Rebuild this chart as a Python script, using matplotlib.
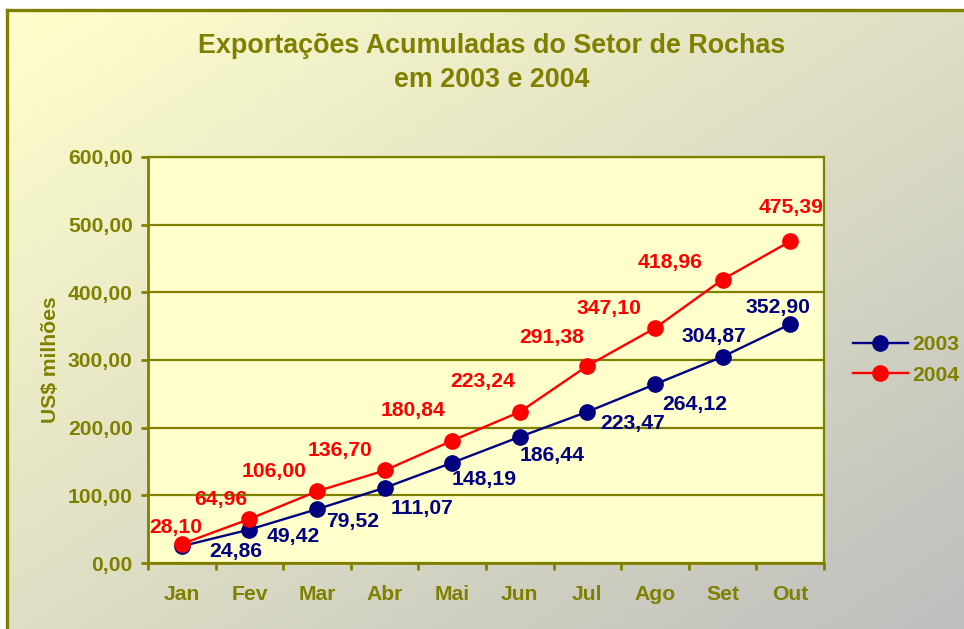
import numpy as np
import matplotlib
matplotlib.use("Agg")
import matplotlib.pyplot as plt
from matplotlib.colors import LinearSegmentedColormap

plt.rcParams['font.family'] = ['Liberation Sans', 'DejaVu Sans']
plt.rcParams['font.weight'] = 'bold'

meses = ['Jan', 'Fev', 'Mar', 'Abr', 'Mai', 'Jun', 'Jul', 'Ago', 'Set', 'Out']
v2003 = [24.86, 49.42, 79.52, 111.07, 148.19, 186.44, 223.47, 264.12, 304.87, 352.90]
v2004 = [28.10, 64.96, 106.00, 136.70, 180.84, 223.24, 291.38, 347.10, 418.96, 475.39]

# deslocamento dos rotulos (pixels)
off2003 = [(54, -5), (44, -7), (36, -12), (37, -21), (32, -17), (32, -19),
           (45, -12), (40, -20), (-9, 20), (-12, 17)]
off2004 = [(-6, 16), (-29, 20), (-43, 20), (-45, 20), (-39, 30), (-37, 30),
           (-36, 28), (-46, 20), (-53, 17), (1, 34)]

oliva = '#808000'
azul = '#000080'
verm = '#FF0000'
fs = 15.2

W, H = 964, 629
fig = plt.figure(figsize=(W / 100, H / 100), dpi=100)
fig.patch.set_facecolor('white')

# fundo em degrade
bg = fig.add_axes([7 / W, 0, 1 - 7 / W, 1 - 10 / H], zorder=-5)
gx, gy = np.meshgrid(np.linspace(0, 1, 300), np.linspace(0, 1, 200))
grad = (gx + gy) / 2
cmap = LinearSegmentedColormap.from_list('g', ['#FFFFCC', '#BEBEBE'])
bg.imshow(grad, cmap=cmap, aspect='auto', extent=[0, 1, 0, 1], origin='upper')
bg.plot([0, 0], [0, 1], color=oliva, lw=2.4, transform=bg.transAxes, clip_on=False)
bg.plot([0, 1], [1, 1], color=oliva, lw=2.4, transform=bg.transAxes, clip_on=False)
bg.set_xlim(0, 1)
bg.set_ylim(0, 1)
bg.axis('off')

ax = fig.add_axes([148 / W, 1 - 563 / H, (824 - 148) / W, (563 - 157) / H])
ax.set_facecolor('#FFFFCC')

x = np.arange(len(meses))
ax.plot(x, v2003, color=azul, lw=1.7, marker='o', ms=11, label='2003', zorder=3)
ax.plot(x, v2004, color=verm, lw=1.7, marker='o', ms=11, label='2004', zorder=4)

for i in range(len(meses)):
    ax.annotate(f"{v2003[i]:.2f}".replace('.', ','), (x[i], v2003[i]), xytext=off2003[i],
                textcoords='offset pixels', ha='center', va='center', color=azul,
                fontsize=fs, fontweight='bold', zorder=5)
    ax.annotate(f"{v2004[i]:.2f}".replace('.', ','), (x[i], v2004[i]), xytext=off2004[i],
                textcoords='offset pixels', ha='center', va='center', color=verm,
                fontsize=fs, fontweight='bold', zorder=5)

ax.set_xlim(-0.5, len(meses) - 0.5)
ax.set_ylim(0, 600)
ax.set_yticks(np.arange(0, 601, 100))
ax.set_yticklabels([f"{t:.2f}".replace('.', ',') for t in np.arange(0, 601, 100)])
ax.set_xticks(x)
ax.set_xticklabels(meses)
ax.set_xticks(np.arange(-0.5, len(meses), 1), minor=True)
ax.tick_params(axis='x', which='major', length=0, pad=16, labelsize=fs, labelcolor=oliva)
ax.tick_params(axis='x', which='minor', length=5, width=2, color=oliva, direction='out')
ax.tick_params(axis='y', length=5, width=2, color=oliva, pad=6, labelsize=fs, labelcolor=oliva)

ax.grid(axis='y', color=oliva, lw=1.6)
ax.set_axisbelow(True)
for s in ax.spines.values():
    s.set_color(oliva)
    s.set_linewidth(1.6)
ax.spines['left'].set_linewidth(2)
ax.spines['bottom'].set_linewidth(2)

ax.set_ylabel('US$ milhões', color=oliva, fontsize=fs, fontweight='bold')
ax.yaxis.set_label_coords(-0.13, 0.5)

fig.text(492 / W, 1 - 46 / H, 'Exportações Acumuladas do Setor de Rochas', ha='center', va='center',
         color=oliva, fontsize=19.4, fontweight='bold')
fig.text(492 / W, 1 - 80 / H, 'em 2003 e 2004', ha='center', va='center',
         color=oliva, fontsize=19.4, fontweight='bold')

leg = ax.legend(loc='center left', bbox_to_anchor=(853 / W, 1 - 360 / H),
                bbox_transform=fig.transFigure, frameon=False, fontsize=fs,
                handlelength=2.6, handletextpad=0.2, labelspacing=0.55,
                borderpad=0, borderaxespad=0)
for t in leg.get_texts():
    t.set_color(oliva)
    t.set_fontweight('bold')

fig.savefig('out.png', dpi=100)
